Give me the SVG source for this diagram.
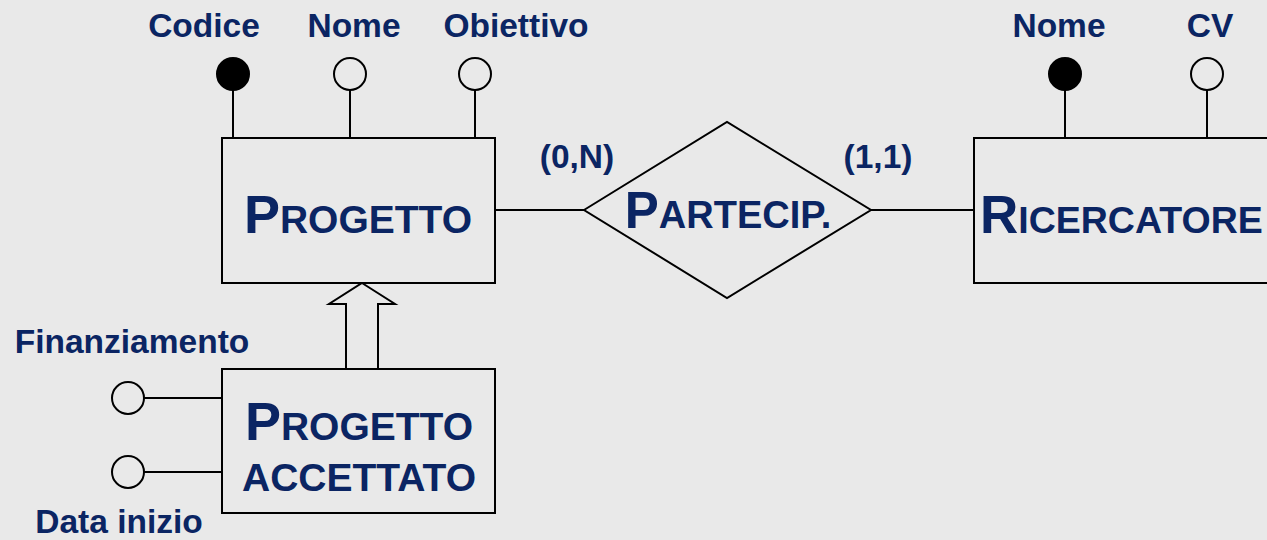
<svg xmlns="http://www.w3.org/2000/svg" width="1267" height="540" viewBox="0 0 1267 540">
<style>
.bg{fill:#e9e9e9}
.ln{stroke:#000;stroke-width:2;fill:none}
.box{stroke:#000;stroke-width:2;fill:#e9e9e9}
.att{stroke:#000;stroke-width:2;fill:#e9e9e9}
.key{stroke:#000;stroke-width:2;fill:#000}
text{font-family:"Liberation Sans",Arial,Helvetica,sans-serif;font-weight:bold;fill:#0b2563}
.lbl{font-size:33.5px;text-anchor:middle}
.big{font-size:54px}
.sm{font-size:39px}
.ent{text-anchor:middle}
</style>
<rect class="bg" x="0" y="0" width="1267" height="540"/>
<g id="connectors">
  <line class="ln" x1="233" y1="90" x2="233" y2="138"/>
  <line class="ln" x1="350" y1="90" x2="350" y2="138"/>
  <line class="ln" x1="475" y1="90" x2="475" y2="138"/>
  <line class="ln" x1="1065" y1="90" x2="1065" y2="138"/>
  <line class="ln" x1="1207" y1="90" x2="1207" y2="138"/>
  <line class="ln" x1="495" y1="210" x2="584" y2="210"/>
  <line class="ln" x1="871" y1="210" x2="974" y2="210"/>
  <line class="ln" x1="144" y1="398" x2="222" y2="398"/>
  <line class="ln" x1="144" y1="472" x2="222" y2="472"/>
  <polygon class="box" points="362,283 395,304 378,304 378,369 346,369 346,304 329,304"/>
</g>
<g id="progetto">
  <rect class="box" x="222" y="138" width="273" height="145"/>
  <text class="ent" x="358" y="233"><tspan class="big">P</tspan><tspan class="sm">ROGETTO</tspan></text>
</g>
<g id="attr-codice">
  <circle class="key" cx="233" cy="74" r="16"/>
  <text class="lbl" x="204" y="37">Codice</text>
</g>
<g id="attr-nome">
  <circle class="att" cx="350" cy="74" r="16"/>
  <text class="lbl" x="354" y="37">Nome</text>
</g>
<g id="attr-obiettivo">
  <circle class="att" cx="475" cy="74" r="16"/>
  <text class="lbl" x="516" y="37">Obiettivo</text>
</g>
<g id="partecip">
  <polygon class="box" points="584,210 727,122 871,210 727,298"/>
  <text class="ent" x="728" y="228"><tspan style="font-size:51px">P</tspan><tspan style="font-size:38px">ARTECIP.</tspan></text>
</g>
<g id="card-0n"><text class="lbl" x="577" y="168">(0,N)</text></g>
<g id="card-11"><text class="lbl" x="878" y="168">(1,1)</text></g>
<g id="ricercatore">
  <rect class="box" x="974" y="138" width="320" height="145"/>
  <text x="980" y="233"><tspan style="font-size:53px">R</tspan><tspan style="font-size:37.5px">ICERCATORE</tspan></text>
</g>
<g id="attr-rnome">
  <circle class="key" cx="1065" cy="74" r="16"/>
  <text class="lbl" x="1059" y="37">Nome</text>
</g>
<g id="attr-cv">
  <circle class="att" cx="1207" cy="74" r="16"/>
  <text class="lbl" x="1210" y="37">CV</text>
</g>
<g id="progetto-accettato">
  <rect class="box" x="222" y="369" width="273" height="144"/>
  <text class="ent" x="359" y="440"><tspan class="big">P</tspan><tspan class="sm">ROGETTO</tspan></text>
  <text class="ent sm" x="359" y="491">ACCETTATO</text>
</g>
<g id="attr-finanziamento">
  <circle class="att" cx="128" cy="398" r="16"/>
  <text class="lbl" x="132" y="353">Finanziamento</text>
</g>
<g id="attr-datainizio">
  <circle class="att" cx="128" cy="472" r="16"/>
  <text class="lbl" x="119" y="533">Data inizio</text>
</g>
</svg>
